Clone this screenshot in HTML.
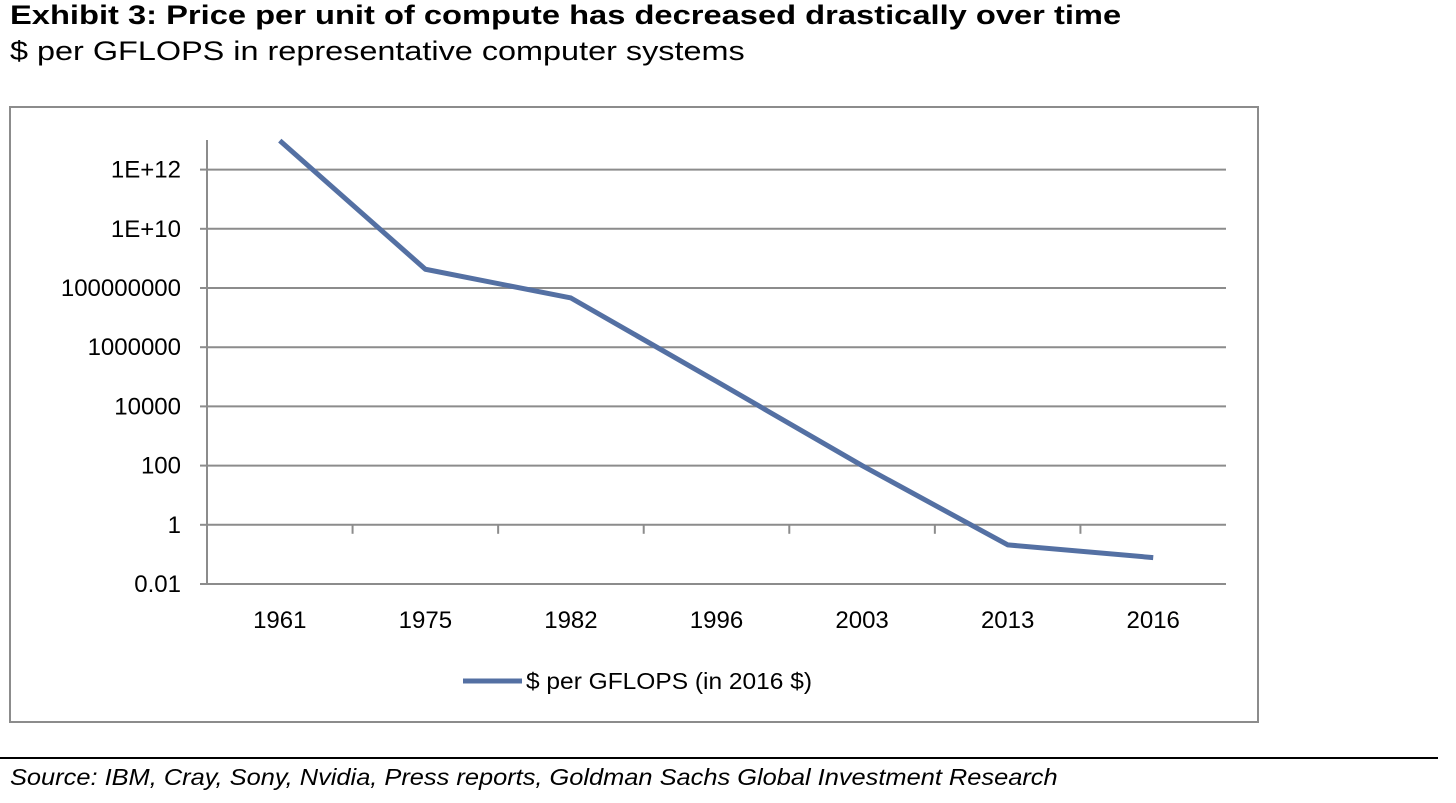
<!DOCTYPE html>
<html><head><meta charset="utf-8">
<style>
body{margin:0;background:#fff;width:1456px;height:803px;overflow:hidden;font-family:"Liberation Sans",sans-serif;}
#title{position:absolute;left:10px;top:0px;font-weight:bold;font-size:27px;color:#000;transform:scaleX(1.21);transform-origin:left top;white-space:nowrap;}
#sub{position:absolute;left:10px;top:36px;font-size:27px;color:#000;transform:scaleX(1.2);transform-origin:left top;white-space:nowrap;}
#src{position:absolute;left:10px;top:764px;font-size:23px;font-style:italic;color:#000;transform:scaleX(1.104);transform-origin:left top;white-space:nowrap;}
#rule{position:absolute;left:0;top:757px;width:1438px;height:2px;background:#000;}
svg{position:absolute;left:0;top:0;}
</style></head><body>
<div id="title">Exhibit 3: Price per unit of compute has decreased drastically over time</div>
<div id="sub">$ per GFLOPS in representative computer systems</div>
<svg id="chart" width="1456" height="803">
<rect x="10" y="107" width="1248" height="615" fill="#fff" stroke="#8c8c8c" stroke-width="2"/>
</svg>
<div id="rule"></div>
<div id="src">Source: IBM, Cray, Sony, Nvidia, Press reports, Goldman Sachs Global Investment Research</div>
<script>
const categories=["1961","1975","1982","1996","2003","2013","2016"];
const values=[9.5e12,4.3e8,4.6e7,7e4,100,0.21,0.078];
const tickExps=[-2,0,2,4,6,8,10,12];
const tickLabels=["0.01","1","100","10000","1000000","100000000","1E+10","1E+12"];
const NS="http://www.w3.org/2000/svg";
const svg=document.getElementById('chart');
const L=207,R=1226,Y0=584,perDec=29.6;
const y=v=>Y0-(Math.log10(v)+2)*perDec;
const ye=e=>Y0-(e+2)*perDec;
const bw=(R-L)/categories.length;
const x=i=>L+bw*(i+0.5);
function mk(t,a){const e=document.createElementNS(NS,t);for(const k in a)e.setAttribute(k,a[k]);svg.appendChild(e);return e;}
tickExps.forEach((e,i)=>{
  const yy=ye(e);
  const g=mk('line',{x1:L,x2:R,y1:yy,y2:yy,stroke:'#8c8c8c','stroke-width':2});
  
  
  const tk=mk('line',{x1:L-7,x2:L,y1:yy,y2:yy,stroke:'#8c8c8c','stroke-width':2});
  
  
  const t=mk('text',{x:L-26,y:yy+8,'text-anchor':'end','font-size':24,fill:'#000','font-family':'Liberation Sans, sans-serif'});
  t.textContent=tickLabels[i];
  
  
});
const ax=mk('line',{x1:L,x2:L,y1:140,y2:Y0,stroke:'#8c8c8c','stroke-width':2});


categories.forEach((c,i)=>{
  if(i>0){const tk=mk('line',{x1:L+bw*i,x2:L+bw*i,y1:ye(0),y2:ye(0)+9,stroke:'#8c8c8c','stroke-width':2});
  
  }
  const t=mk('text',{x:x(i),y:628,'text-anchor':'middle','font-size':24,fill:'#000','font-family':'Liberation Sans, sans-serif'});
  t.textContent=c;
  
  
});
const pts=values.map((v,i)=>x(i)+','+y(v)).join(' ');
const pl=mk('polyline',{points:pts,fill:'none',stroke:'#5470a3','stroke-width':5,'stroke-linejoin':'round'});


const ll=mk('line',{x1:463,x2:522,y1:681,y2:681,stroke:'#5470a3','stroke-width':5});


const lt=mk('text',{x:526,y:689,'font-size':23,fill:'#000','font-family':'Liberation Sans, sans-serif',textLength:286,lengthAdjust:'spacingAndGlyphs'});
lt.textContent='$ per GFLOPS (in 2016 $)';


</script>
</body></html>
